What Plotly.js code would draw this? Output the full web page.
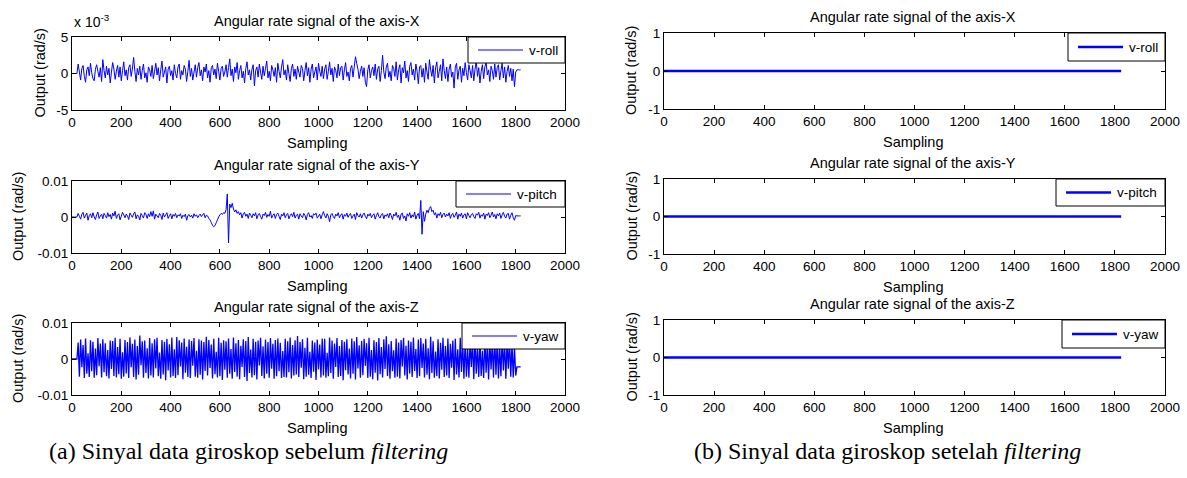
<!DOCTYPE html>
<html><head><meta charset="utf-8">
<script src="https://cdn.plot.ly/plotly-3.0.1.min.js"></script>
<style>html,body{margin:0;padding:0;background:#fff}</style>
</head><body><div id="chart" style="width:1187px;height:478px"></div>
<script>
// ---------- DATA ----------
// sample spacing of the digitised signals (every 5th sample)
const sampleStep = 5;
// v-roll before filtering, in units of 1e-3 rad/s (axis shows x 10^-3)
const rollRaw = [0,0,0,0,0,
 1.3,0.2,-0.9,0.7,1.1,-0.4,-1.2,0.5,0.9,-0.3,1.4,0.1,-0.7,-1.0,0.6,1.2,0.3,-0.5,0.8,-1.1,
 1.9,0.4,-0.6,1.0,-0.2,0.7,-1.3,0.2,1.5,0.6,-0.8,0.3,1.1,-0.5,0.9,-1.0,0.4,1.6,-0.3,0.5,
 -0.9,0.8,1.2,-0.4,0.6,2.2,0.3,-1.1,0.7,-0.2,1.0,-0.8,0.4,1.3,-0.6,0.1,-1.2,0.9,0.5,-0.4,
 1.1,-0.7,0.3,1.4,-0.2,0.8,-1.0,0.5,1.7,-0.5,0.2,0.9,-1.3,0.6,1.0,-0.3,0.4,-0.9,1.2,0.0,
 -0.6,0.9,1.3,-0.8,0.4,-0.2,1.1,0.6,-1.1,0.3,1.8,-0.4,0.7,-0.9,0.2,1.2,-0.5,0.8,1.5,-0.3,
 0.5,-1.0,0.9,0.2,1.3,-0.6,0.4,-1.2,0.8,1.1,-0.2,0.6,-0.7,1.4,0.3,-0.9,0.7,1.0,-0.4,0.2,
 1.2,-0.5,0.8,2.0,-0.3,0.6,-1.1,0.9,0.1,1.5,-0.8,0.4,1.1,-0.6,0.3,-1.3,0.7,1.6,-0.2,0.5,
 -0.9,0.6,1.2,-1.7,0.4,0.9,-0.5,1.3,0.2,-0.8,1.0,-0.3,0.7,1.7,-0.6,0.3,-1.0,1.1,0.5,-0.4,
 0.8,-1.2,1.4,0.3,-0.6,0.9,1.9,-0.2,0.5,-0.9,1.2,0.0,-1.1,0.7,1.3,-0.4,0.6,-0.8,1.0,0.2,
 -0.5,1.1,0.7,-1.0,0.4,1.5,-0.3,0.8,-1.2,0.6,1.3,-0.6,0.2,0.9,-0.9,1.4,0.3,-0.4,1.0,-0.7,
 0.6,1.2,-0.8,0.3,1.6,-0.2,0.7,-1.1,0.9,0.4,-0.6,1.3,-0.3,0.8,1.0,-0.9,0.5,1.5,-0.4,0.2,
 -1.0,0.7,1.1,-0.5,0.9,2.3,1.4,0.6,-0.7,0.3,1.0,-0.4,0.8,-1.2,-1.8,0.5,1.2,-0.6,0.4,0.9,
 -0.3,1.3,-0.8,0.6,1.0,-1.1,0.4,2.5,0.2,-0.7,0.9,1.4,-0.5,0.3,-1.0,1.1,0.7,-0.4,1.6,-0.9,
 0.5,1.2,-1.3,0.8,0.1,1.7,-0.6,0.4,-1.1,1.0,1.5,-0.2,0.6,-0.9,1.3,0.3,-1.4,0.9,1.1,-0.5,
 0.7,-1.2,1.4,0.2,-0.8,1.9,0.5,-0.4,1.1,-1.3,0.8,1.6,-0.6,0.3,1.2,-1.0,2.0,0.4,-0.7,0.9,
 -1.1,0.6,1.3,-0.5,0.2,-2.0,0.9,1.4,-0.8,0.5,1.0,-1.2,0.7,-0.3,1.5,0.1,-0.9,1.2,0.4,-0.6,
 1.1,-1.0,0.6,1.7,-0.4,0.8,-1.3,0.3,1.2,-0.7,0.9,1.5,-0.2,0.5,-1.1,1.0,0.4,-0.8,1.3,-0.5,
 0.8,1.2,-0.9,0.4,1.4,-0.6,0.9,-1.2,0.3,1.1,-0.4,0.7,-1.0,0.6,-1.8,0.2,
 0.5,0.5,0.5,0.5];
// v-pitch before filtering, in units of 1e-3 rad/s
const pitchRawMilli = [0,0,0,0,0,
 1.0,0.2,-0.6,0.8,1.3,-0.3,0.5,1.1,-0.9,0.4,0.9,-0.2,1.2,0.0,-0.7,0.6,1.4,-0.4,0.3,0.8,
 -0.5,1.0,0.4,-0.3,1.2,0.1,0.7,-0.6,1.1,0.3,1.6,-0.4,0.5,0.9,-0.8,0.2,1.3,0.6,-0.2,0.8,
 0.3,-0.7,1.1,0.5,-0.1,0.9,1.4,-0.5,0.6,0.2,-0.8,1.0,0.4,-0.3,1.2,0.7,-0.4,0.9,0.1,1.5,
 0.2,1.7,-0.6,0.8,0.3,-0.2,1.0,0.5,-0.7,1.1,0.0,0.6,1.2,-0.4,0.4,0.9,-0.5,0.7,0.2,1.0,
 -0.2,0.6,0.3,0.9,-0.4,0.5,0.1,0.8,-0.9,0.4,0.7,0.0,0.5,-0.3,0.9,0.2,0.6,-0.2,0.4,0.8,
 0.1,0.6,1.0,-0.2,0.5,0.3,-0.4,-0.8,-1.5,-2.3,-2.7,-2.4,-1.6,-0.8,0.0,0.6,1.0,0.7,1.2,1.0,
 2.0,6.4,-7.2,3.6,2.6,3.8,2.2,1.4,2.0,1.0,1.5,0.6,1.2,-0.3,0.9,1.3,0.2,0.8,-0.4,1.1,
 0.5,-0.2,0.9,0.3,1.2,-0.5,0.6,1.0,0.1,-0.6,0.8,0.4,1.3,-0.1,0.7,0.2,1.6,-0.3,0.5,0.9,
 -0.4,0.7,1.1,0.2,-0.7,0.8,0.3,1.2,-0.2,0.6,1.0,-0.5,0.4,0.9,0.1,1.3,-0.3,0.5,0.8,-0.6,
 0.9,0.3,-0.2,1.0,0.5,-0.8,0.7,1.2,0.0,0.4,-0.4,0.9,0.6,1.1,-0.3,0.2,0.8,-0.5,0.6,1.5,
 0.4,-0.3,0.9,0.2,-1.3,0.6,1.0,0.1,-0.4,0.8,0.3,1.2,-0.2,0.5,0.9,-0.6,0.7,0.2,1.1,-0.1,
 0.6,1.0,-0.4,0.3,0.8,-0.7,1.2,0.4,0.0,0.9,-0.3,0.6,1.1,0.2,-0.5,0.8,0.3,1.0,-0.2,0.5,
 0.9,-0.6,0.4,1.2,0.1,-0.3,0.7,1.0,-0.5,0.6,0.2,0.9,-0.2,1.1,0.4,-0.7,0.8,0.3,1.3,-0.1,
 0.5,-0.9,0.8,1.1,-0.4,0.3,-1.1,0.9,0.2,1.2,-0.3,0.6,0.0,1.4,-0.6,0.5,1.0,-0.5,4.6,-4.8,
 1.5,-1.2,0.8,1.9,1.2,2.4,2.9,1.5,1.9,0.6,1.2,-0.3,0.9,0.4,1.3,-0.2,0.7,1.1,0.0,0.8,
 0.3,1.2,-0.4,0.7,1.0,-0.1,0.5,1.4,-0.6,0.8,0.2,1.1,-0.3,0.6,0.9,-0.5,1.2,0.4,-0.2,0.7,
 1.0,0.1,-0.4,0.9,0.5,1.3,-0.3,0.6,0.2,1.1,-0.6,0.8,0.4,1.2,-0.2,0.5,1.4,0.0,0.7,-0.5,
 0.9,0.3,1.1,-0.4,0.6,1.3,0.2,-0.3,0.8,1.0,-0.6,0.5,1.2,-0.2,-0.9,0.4,
 0.3,0.3,0.3,0.3];
// v-yaw before filtering, in units of 1e-3 rad/s
const yawRawMilli = [0,0,0,0,0,
 4.6,-4.9,5.4,-2.3,3.9,-5.3,5.7,-4.1,1.6,-5.0,5.2,-3.4,4.8,-5.2,2.9,-4.5,5.8,-2.0,4.3,-5.1,
 5.5,-3.7,4.4,-4.8,2.5,-5.4,5.1,-2.8,5.0,-4.7,5.9,-5.1,3.3,-4.2,5.6,-5.5,1.9,-4.9,5.3,-4.0,
 4.7,-5.3,6.0,-2.3,4.2,-5.0,5.4,-5.7,3.6,-4.4,6.5,-1.7,4.9,-5.2,5.1,-3.9,3.0,-5.4,5.8,-4.6,
 4.4,-5.1,5.5,-2.6,5.9,-4.8,1.8,-5.5,5.3,-4.3,4.8,-5.9,5.6,-3.2,4.1,-5.1,6.0,-4.7,2.7,-5.3,
 6.1,-4.5,5.2,-2.1,4.6,-5.6,5.7,-3.8,3.4,-5.0,5.4,-5.3,5.0,-1.9,5.8,-4.9,2.3,-5.2,5.5,-4.4,
 5.1,-5.7,4.7,-3.3,6.2,-4.6,5.3,-2.5,4.0,-5.4,5.6,-4.2,2.0,-5.1,5.9,-4.8,4.5,-5.8,5.2,-3.0,
 4.9,-5.2,5.7,-4.1,2.8,-5.5,6.0,-3.6,4.4,-4.9,5.3,-5.6,3.7,-2.2,5.5,-5.0,5.0,-6.1,6.1,-3.9,
 2.6,-5.1,5.6,-4.5,4.8,-5.7,5.1,-1.8,5.9,-4.7,3.5,-5.4,5.4,-4.1,4.7,-5.2,5.8,-2.7,4.2,-5.5,
 5.3,-4.8,5.7,-3.4,4.5,-5.3,2.2,-5.0,5.6,-5.1,4.9,-3.7,6.0,-5.4,3.9,-4.6,5.2,-4.3,6.4,-5.0,
 4.7,-2.4,5.5,-5.6,3.1,-4.9,5.9,-4.4,2.0,-5.3,5.1,-3.5,4.6,-5.8,5.4,-2.9,4.0,-5.1,5.7,-4.6,
 5.6,-5.2,1.7,-4.8,6.0,-3.9,5.1,-5.5,4.3,-2.2,5.8,-5.0,3.6,-4.7,5.3,-5.9,4.8,-3.1,5.5,-4.3,
 2.9,-5.4,5.7,-4.1,4.9,-5.7,6.1,-2.6,3.8,-5.2,5.0,-4.5,5.6,-1.9,4.4,-5.3,5.9,-4.9,2.5,-5.6,
 5.2,-3.8,4.7,-6.0,5.8,-4.2,3.3,-5.1,5.5,-2.8,6.3,-4.7,4.1,-5.5,5.0,-3.4,2.4,-5.2,5.7,-4.9,
 4.6,-5.4,5.3,-2.1,5.9,-4.6,3.7,-5.7,5.1,-4.0,4.8,-5.0,6.0,-3.3,2.8,-5.3,5.4,-4.8,5.8,-2.5,
 4.3,-5.1,5.6,-4.4,3.0,-5.6,6.2,-3.9,4.9,-5.2,2.1,-4.7,5.5,-5.4,4.5,-3.0,5.9,-5.0,3.6,-4.6,
 5.7,-5.3,4.2,-2.4,5.1,-5.8,5.6,-4.3,2.7,-5.1,5.9,-3.6,4.7,-5.5,5.3,-4.9,3.2,-5.2,5.0,-2.2,
 4.9,-5.6,5.8,-4.1,3.5,-5.0,5.4,-4.7,2.3,-5.3,5.6,-3.8,4.4,-5.7,5.1,-2.9,4.6,-5.1,5.9,-4.4,
 5.2,-5.4,3.9,-4.8,5.7,-3.2,4.5,-5.5,5.0,-2.7,5.3,-4.9,4.1,-5.1,3.3,-4.6,
 -2.2,-2.2,-2.2,-2.2];
// after filtering: all three outputs stay at zero
const filteredSampling = [0, 1825];
const rollFiltered = [0, 0];
const pitchFiltered = [0, 0];
const yawFiltered = [0, 0];

const seriesNames = ['v-roll', 'v-pitch', 'v-yaw'];
const panelTitles = ['Angular rate signal of the axis-X', 'Angular rate signal of the axis-Y', 'Angular rate signal of the axis-Z'];
const xTicks = [0,200,400,600,800,1000,1200,1400,1600,1800,2000];
const rollTicks = [-5, 0, 5];
const smallTicks = [-0.01, 0, 0.01];
const smallTickText = ['-0.01', '0', '0.01'];
const unitTicks = [-1, 0, 1];
const captionA = '(a) Sinyal data giroskop sebelum <i>filtering</i>';
const captionB = '(b) Sinyal data giroskop setelah <i>filtering</i>';

// ---------- BUILD ----------
const W = 1187, H = 478;
const sampling = rollRaw.map((_, i) => i * sampleStep);
const toRad = a => a.map(v => v / 1000);
const blue = '#0000ff';
const FONT = 'Liberation Sans, Arial, Helvetica, sans-serif';
const LABEL_SIZE = 14.5, TICK_SIZE = 13.5, LEGEND_SIZE = 13.5;
const RAW_W = 1, FILT_W = 2.6;

// panel boxes in pixels [left, right, top, bottom]
const boxes = [
  [72, 565, 37, 110], [664, 1165, 33, 109],
  [72, 565, 181, 253], [664, 1165, 179, 254],
  [72, 565, 323, 395], [664, 1165, 320, 395]
];
// legend box sizes in pixels [width, height]
const legendBoxes = [[97, 26], [97, 28], [109, 26], [109, 27], [103, 26], [103, 28]];
const px = x => x / W, py = y => 1 - y / H;

const traceSpecs = [
  {x: sampling, y: rollRaw, name: seriesNames[0], lw: RAW_W},
  {x: filteredSampling, y: rollFiltered, name: seriesNames[0], lw: FILT_W},
  {x: sampling, y: toRad(pitchRawMilli), name: seriesNames[1], lw: RAW_W},
  {x: filteredSampling, y: pitchFiltered, name: seriesNames[1], lw: FILT_W},
  {x: sampling, y: toRad(yawRawMilli), name: seriesNames[2], lw: RAW_W * 1.3},
  {x: filteredSampling, y: yawFiltered, name: seriesNames[2], lw: FILT_W}
];
const traces = traceSpecs.map((t, i) => ({
  type: 'scatter', mode: 'lines', x: t.x, y: t.y, name: t.name,
  line: {color: blue, width: t.lw, simplify: false},
  xaxis: 'x' + (i ? i + 1 : ''), yaxis: 'y' + (i ? i + 1 : ''),
  showlegend: false, hoverinfo: 'skip'
}));

const layout = {
  width: W, height: H, margin: {l: 0, r: 0, t: 0, b: 0},
  paper_bgcolor: '#fff', plot_bgcolor: '#fff',
  font: {family: FONT, color: '#000', size: 13},
  annotations: [], shapes: [], showlegend: false
};
const axBase = {
  ticks: 'inside', ticklen: 4, tickwidth: 1, tickcolor: '#000',
  showline: true, linecolor: '#000', linewidth: 1, mirror: 'ticks',
  showgrid: false, zeroline: false, fixedrange: true,
  tickfont: {family: FONT, size: TICK_SIZE, color: '#000'}
};
boxes.forEach((b, i) => {
  const k = i ? i + 1 : '';
  const left = i % 2 === 0;
  layout['xaxis' + k] = Object.assign({}, axBase, {
    domain: [px(b[0]), px(b[1])], anchor: 'y' + k, range: [0, 2000],
    tickmode: 'array', tickvals: xTicks
  });
  let yv, yt, yr;
  if (i === 0) { yv = rollTicks; yt = rollTicks.map(String); yr = [-5, 5]; }
  else if (left) { yv = smallTicks; yt = smallTickText; yr = [-0.01, 0.01]; }
  else { yv = unitTicks; yt = unitTicks.map(String); yr = [-1, 1]; }
  layout['yaxis' + k] = Object.assign({}, axBase, {
    domain: [py(b[3]), py(b[2])], anchor: 'x' + k, range: yr,
    tickmode: 'array', tickvals: yv, ticktext: yt
  });
  // legend box (MATLAB style) in the top-right corner of each panel
  const lw = legendBoxes[i][0], lh = legendBoxes[i][1];
  const lx0 = b[1] - lw, ly0 = b[2], lyc = ly0 + lh / 2;
  layout.shapes.push({type: 'rect', xref: 'paper', yref: 'paper', layer: 'above',
    x0: px(lx0), x1: px(b[1]), y0: py(ly0 + lh), y1: py(ly0),
    line: {color: '#000', width: 1}, fillcolor: '#fff'});
  layout.shapes.push({type: 'line', xref: 'paper', yref: 'paper', layer: 'above',
    x0: px(lx0 + 10), x1: px(lx0 + 55), y0: py(lyc), y1: py(lyc),
    line: {color: blue, width: left ? RAW_W : FILT_W}});
  layout.annotations.push({
    text: traceSpecs[i].name, xref: 'paper', yref: 'paper',
    x: px(lx0 + 59), y: py(lyc), xanchor: 'left', yanchor: 'middle',
    showarrow: false, font: {family: FONT, size: LEGEND_SIZE, color: '#000'}
  });
  const cx = (b[0] + b[1]) / 2 - 2;
  layout.annotations.push({
    text: panelTitles[Math.floor(i / 2)], xref: 'paper', yref: 'paper',
    x: px(cx), y: py(b[2] - 16), xanchor: 'center', yanchor: 'middle',
    showarrow: false, font: {family: FONT, size: LABEL_SIZE, color: '#000'}
  });
  layout.annotations.push({
    text: 'Sampling', xref: 'paper', yref: 'paper',
    x: px(cx), y: py(b[3] + 33), xanchor: 'center', yanchor: 'middle',
    showarrow: false, font: {family: FONT, size: LABEL_SIZE, color: '#000'}
  });
  const ylx = i === 0 ? 39 : (left ? 18 : 631);
  layout.annotations.push({
    text: 'Output (rad/s)', xref: 'paper', yref: 'paper', textangle: -90,
    x: px(ylx), y: py((b[2] + b[3]) / 2), xanchor: 'center', yanchor: 'middle',
    showarrow: false, font: {family: FONT, size: LABEL_SIZE, color: '#000'}
  });
});
layout.annotations.push({
  text: 'x 10<sup>-3</sup>', xref: 'paper', yref: 'paper',
  x: px(72), y: py(32), xanchor: 'left', yanchor: 'bottom',
  showarrow: false, font: {family: FONT, size: 14, color: '#000'}
});
[[captionA, 249], [captionB, 887]].forEach(c => layout.annotations.push({
  text: c[0], xref: 'paper', yref: 'paper', x: px(c[1]), y: py(451),
  xanchor: 'center', yanchor: 'middle', showarrow: false,
  font: {family: 'Liberation Serif, Times New Roman, serif', size: 24, color: '#000'}
}));

Plotly.newPlot('chart', traces, layout, {staticPlot: true, displayModeBar: false});
</script></body></html>
